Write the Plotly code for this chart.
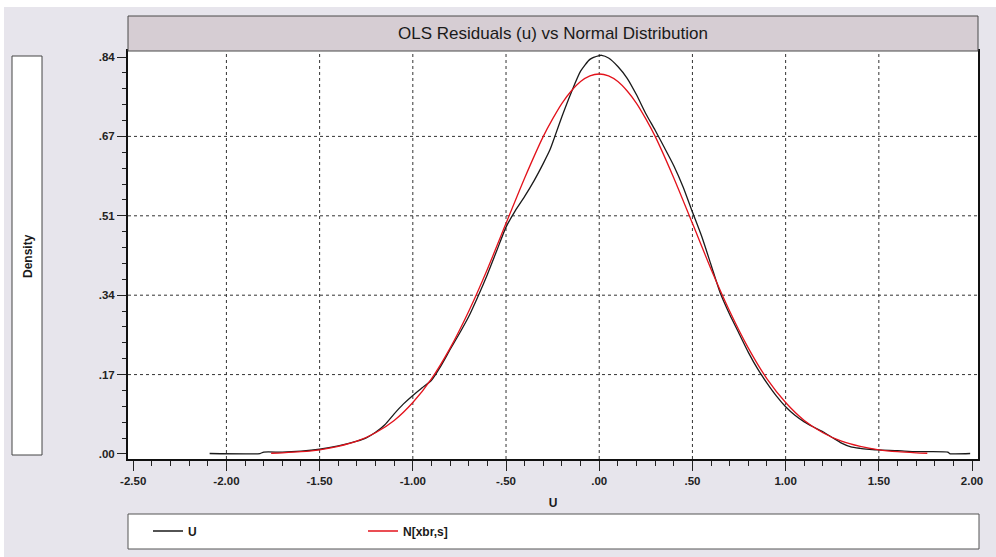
import plotly.graph_objects as go

# ---------------- data ----------------
u_x = [-2.09, -1.82, -1.80, -1.70, -1.60, -1.50, -1.40, -1.30, -1.25, -1.20, -1.15, -1.10,
       -1.05, -1.00, -0.95, -0.90, -0.85, -0.80, -0.75, -0.70, -0.65, -0.60, -0.55, -0.50,
       -0.45, -0.40, -0.35, -0.30, -0.265, -0.238, -0.20, -0.15, -0.10, -0.05, 0.00, 0.013,
       0.05, 0.10, 0.15, 0.20, 0.25, 0.30, 0.35, 0.40, 0.45, 0.50, 0.55, 0.60, 0.65, 0.70,
       0.75, 0.80, 0.85, 0.90, 0.95, 1.00, 1.05, 1.10, 1.15, 1.20, 1.25, 1.30, 1.35, 1.40,
       1.45, 1.50, 1.60, 1.70, 1.75, 1.87, 1.88, 1.99]
u_y = [0.001, 0.001, 0.004, 0.004, 0.006, 0.010, 0.017, 0.027, 0.034, 0.046, 0.062, 0.085,
       0.106, 0.124, 0.140, 0.156, 0.186, 0.221, 0.255, 0.291, 0.334, 0.380, 0.430, 0.480,
       0.515, 0.545, 0.578, 0.615, 0.643, 0.672, 0.714, 0.765, 0.810, 0.835, 0.843, 0.8436,
       0.838, 0.820, 0.795, 0.760, 0.720, 0.685, 0.648, 0.610, 0.565, 0.512, 0.460, 0.400,
       0.340, 0.295, 0.255, 0.215, 0.180, 0.150, 0.123, 0.100, 0.082, 0.068, 0.057, 0.047,
       0.035, 0.023, 0.015, 0.012, 0.010, 0.0085, 0.007, 0.005, 0.005, 0.004, 0.001, 0.001]

n_x = [-1.76, -1.70, -1.60, -1.50, -1.40, -1.30, -1.20, -1.10, -1.00, -0.90, -0.80, -0.70,
       -0.60, -0.50, -0.40, -0.30, -0.25, -0.20, -0.15, -0.10, -0.05, 0.00, 0.05, 0.10, 0.15,
       0.20, 0.25, 0.30, 0.40, 0.50, 0.60, 0.70, 0.80, 0.90, 1.00, 1.10, 1.20, 1.30, 1.40, 1.50,
       1.60, 1.70, 1.76]
n_y = [0.0016, 0.0025, 0.0048, 0.0089, 0.016, 0.027, 0.045, 0.071, 0.109, 0.159, 0.224, 0.302,
       0.391, 0.488, 0.584, 0.672, 0.709, 0.742, 0.768, 0.788, 0.800, 0.804, 0.800, 0.788, 0.768,
       0.742, 0.709, 0.672, 0.584, 0.488, 0.391, 0.302, 0.224, 0.159, 0.109, 0.071, 0.045, 0.027,
       0.016, 0.0089, 0.0048, 0.0025, 0.0016]

x_tickvals = [-2.5, -2.0, -1.5, -1.0, -0.5, 0.0, 0.5, 1.0, 1.5, 2.0]
x_ticktext = ["-2.50", "-2.00", "-1.50", "-1.00", "-.50", ".00", ".50", "1.00", "1.50", "2.00"]
y_tickvals = [0.0, 0.168, 0.336, 0.504, 0.672, 0.84]
y_ticktext = [".00", ".17", ".34", ".51", ".67", ".84"]

title_text = "OLS Residuals (u) vs Normal Distribution"
series_names = ["U", "N[xbr,s]"]

# ---------------- layout geometry ----------------
W, H = 996, 557
L, R, T, B = 128, 978, 51, 459   # plot-area pixel box


def px_x(p):
    return (p - L) / (R - L)


def px_y(p):
    return (B - p) / (B - T)


FONT = "Liberation Sans, Arial, sans-serif"
GRID = "#333333"

fig = go.Figure()
fig.add_trace(go.Scatter(x=u_x, y=u_y, mode="lines", name=series_names[0],
                         line=dict(color="#1a1a1a", width=1.3, shape="spline", smoothing=0.6),
                         hoverinfo="skip"))
fig.add_trace(go.Scatter(x=n_x, y=n_y, mode="lines", name=series_names[1],
                         line=dict(color="#e3121b", width=1.3, shape="spline", smoothing=0.6),
                         hoverinfo="skip"))

shapes = []
# white strips at the top-left page edge
shapes.append(dict(type="rect", xref="paper", yref="paper", x0=px_x(0), x1=px_x(W), y0=px_y(7), y1=px_y(0),
                   fillcolor="white", line=dict(width=0), layer="below"))
shapes.append(dict(type="rect", xref="paper", yref="paper", x0=px_x(0), x1=px_x(4), y0=px_y(H), y1=px_y(0),
                   fillcolor="white", line=dict(width=0), layer="below"))
# title band
shapes.append(dict(type="rect", xref="paper", yref="paper", x0=px_x(128), x1=px_x(978), y0=px_y(51), y1=px_y(16),
                   fillcolor="#d6cdd3", line=dict(color="#4a4a4a", width=1)))
# y-label box
shapes.append(dict(type="rect", xref="paper", yref="paper", x0=px_x(12), x1=px_x(42), y0=px_y(455), y1=px_y(56),
                   fillcolor="white", line=dict(color="#444444", width=1), layer="below"))
# legend box
shapes.append(dict(type="rect", xref="paper", yref="paper", x0=px_x(128), x1=px_x(979), y0=px_y(549), y1=px_y(514),
                   fillcolor="white", line=dict(color="#555555", width=1), layer="below"))
# dotted grid (interior ticks only)
for v in x_tickvals[1:-1]:
    shapes.append(dict(type="line", xref="x", yref="paper", x0=v, x1=v, y0=0, y1=1,
                       line=dict(color=GRID, width=1, dash="dot"), layer="below"))
for v in y_tickvals[1:-1]:
    shapes.append(dict(type="line", xref="paper", yref="y", x0=0, x1=1, y0=v, y1=v,
                       line=dict(color=GRID, width=1, dash="dot"), layer="below"))

annotations = [
    dict(text=title_text, xref="paper", yref="paper", x=0.5, y=px_y(33.5), showarrow=False,
         xanchor="center", yanchor="middle", font=dict(family=FONT, size=17, color="#1a1a1a")),
    dict(text="Density", xref="paper", yref="paper", x=px_x(28), y=px_y(256), showarrow=False,
         textangle=-90, xanchor="center", yanchor="middle",
         font=dict(family=FONT, size=12, color="#1a1a1a", weight="bold")),
]

fig.update_layout(
    width=W, height=H,
    margin=dict(l=L, r=W - R, t=T, b=H - B, pad=0),
    paper_bgcolor="#e7e5ec",
    plot_bgcolor="white",
    showlegend=True,
    legend=dict(orientation="h", x=px_x(148), y=px_y(531), xanchor="left", yanchor="middle",
                bgcolor="rgba(0,0,0,0)", borderwidth=0, entrywidth=170, entrywidthmode="pixels",
                font=dict(family=FONT, size=12, color="#1a1a1a", weight="bold")),
    shapes=shapes,
    annotations=annotations,
    hovermode=False,
    xaxis=dict(range=[-2.528, 2.032], tickmode="array", tickvals=x_tickvals, ticktext=x_ticktext,
               ticks="outside", ticklen=10, tickwidth=1, tickcolor="#222222",
               showgrid=False, zeroline=False, showline=True, linecolor="#111111", linewidth=2,
               mirror=True,
               minor=dict(ticks="outside", ticklen=5, tickwidth=1, tickcolor="#222222",
                          tick0=-2.5, dtick=0.1, showgrid=False),
               tickfont=dict(family=FONT, size=11.5, color="#222222", weight="bold"),
               title=dict(text="U", standoff=13,
                          font=dict(family=FONT, size=12, color="#1a1a1a", weight="bold"))),
    yaxis=dict(range=[-0.0106, 0.8527], tickmode="array", tickvals=y_tickvals, ticktext=y_ticktext,
               ticks="outside", ticklen=9, tickwidth=1, tickcolor="#222222",
               showgrid=False, zeroline=False, showline=True, linecolor="#111111", linewidth=2,
               mirror=True,
               minor=dict(ticks="outside", ticklen=4, tickwidth=1, tickcolor="#222222",
                          tick0=0, dtick=0.0336, showgrid=False),
               tickfont=dict(family=FONT, size=11.5, color="#222222", weight="bold")),
)

fig.write_html("out.html", config=dict(displayModeBar=False, staticPlot=True),
               post_script="document.body.style.margin='0';document.body.style.overflow='hidden';")
